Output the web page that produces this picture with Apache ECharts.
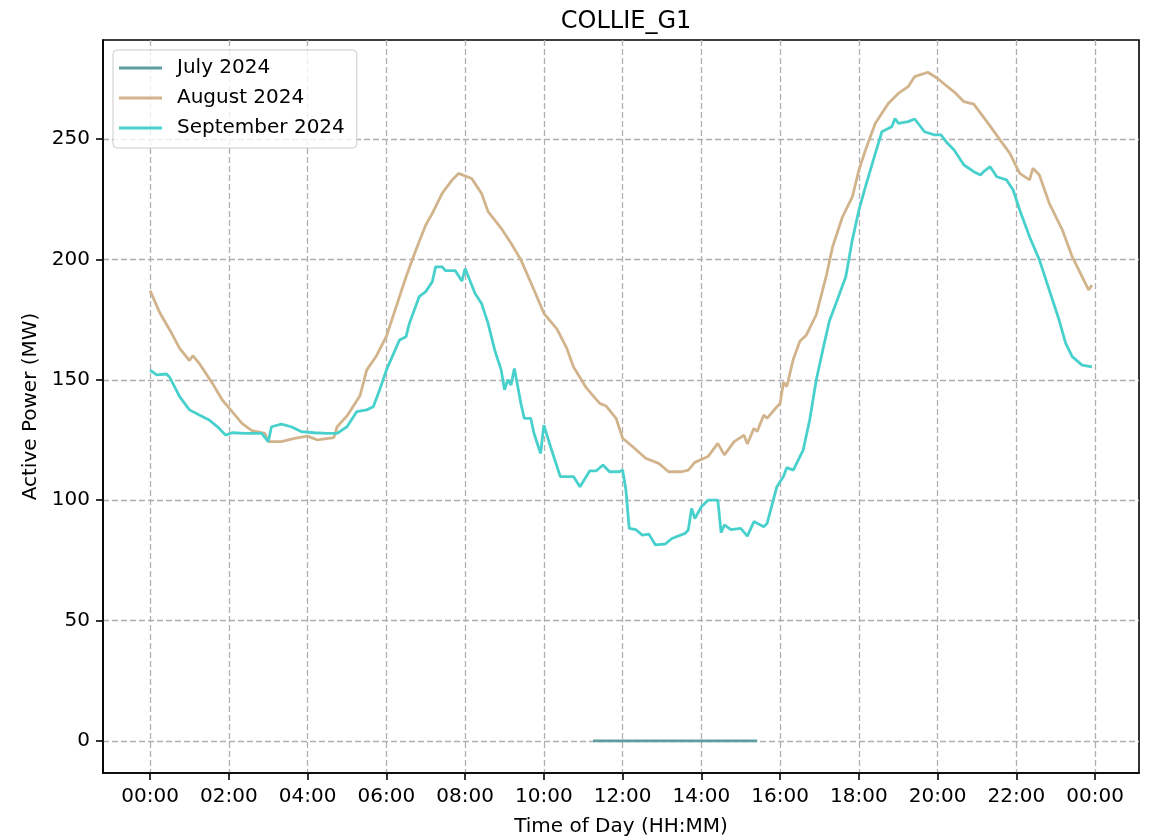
<!DOCTYPE html>
<html>
<head>
<meta charset="utf-8">
<script src="https://cdn.jsdelivr.net/npm/echarts@6/dist/echarts.min.js"></script>
<style>
html,body{margin:0;padding:0;background:#fff;}
#chart{width:1155px;height:838px;}
</style>
</head>
<body>
<div id="chart"></div>
<script>
// ---- Data (time of day HH:MM, active power MW) ----
const julyTimes = ["11:15", "15:25"];
const julyValues = [0, 0];

const augTimes = ["00:00","00:15","00:30","00:45","01:00","01:05","01:15","01:35","01:50","02:05","02:20","02:35","02:55","03:00","03:20","03:40","04:00","04:15","04:40","04:45","05:00","05:20","05:30","05:45","06:00","06:15","06:30","06:45","07:00","07:10","07:25","07:40","07:50","08:10","08:25","08:35","08:55","09:10","09:25","09:45","10:00","10:20","10:35","10:45","11:05","11:25","11:35","11:50","12:00","12:15","12:35","12:55","13:10","13:30","13:40","13:50","14:10","14:25","14:35","14:50","15:05","15:10","15:20","15:25","15:35","15:40","15:55","16:00","16:05","16:10","16:20","16:30","16:40","16:55","17:10","17:20","17:35","17:50","18:00","18:10","18:25","18:45","19:00","19:15","19:25","19:45","20:00","20:15","20:25","20:40","20:55","21:15","21:35","21:50","22:05","22:20","22:25","22:35","22:50","23:10","23:25","23:40","23:50","23:55"];
const augValues = [187,177.7,170.7,163,158,160,156.8,148.5,141.6,136.8,131.9,128.9,127.7,124.3,124.3,125.7,126.6,125,126,130.5,135,143.5,154,160,168,180.4,192.8,203.9,214.3,219.1,227.4,232.9,235.7,233.6,227.4,219.8,212.9,206.7,199.8,187.3,177.6,171,163,155.4,146.5,140.2,139.1,134,125.7,122.3,117.4,115.3,111.8,111.8,112.5,115.7,118.1,123.6,118.8,124.3,127,123.3,129.8,128.5,135.4,134,138.8,140.2,149,147.1,158.5,166,168.6,177,192.8,205.3,217.7,226,237.1,245.4,256.5,264.8,268.9,271.7,275.9,277.7,275.1,271.7,269.6,265.5,264.5,257.2,249.6,244,235.7,233,237.8,235,223.3,212.2,201.1,192.8,187.3,189.4];

const sepTimes = ["00:00","00:10","00:25","00:30","00:45","01:00","01:15","01:30","01:45","01:55","02:05","02:25","02:50","03:00","03:05","03:20","03:35","03:50","04:10","04:30","04:45","05:00","05:15","05:30","05:40","05:50","06:00","06:20","06:30","06:35","06:50","07:00","07:10","07:15","07:25","07:30","07:45","07:55","08:00","08:15","08:25","08:35","08:45","08:55","09:00","09:05","09:10","09:15","09:25","09:30","09:40","09:45","09:55","10:00","10:10","10:25","10:45","10:55","11:10","11:20","11:30","11:40","11:55","12:00","12:05","12:10","12:20","12:30","12:40","12:50","13:05","13:15","13:35","13:40","13:45","13:50","14:00","14:10","14:25","14:30","14:35","14:45","15:00","15:10","15:20","15:35","15:40","15:55","16:05","16:10","16:20","16:35","16:45","16:55","17:05","17:15","17:25","17:40","17:50","18:00","18:10","18:25","18:35","18:50","18:55","19:00","19:15","19:25","19:40","19:55","20:05","20:15","20:25","20:40","20:55","21:05","21:10","21:20","21:30","21:45","21:55","22:05","22:20","22:35","22:50","23:05","23:15","23:25","23:40","23:55"];
const sepValues = [154,152,152.4,151,143,137.5,135.4,133.3,129.9,127,128,127.7,127.7,124.3,130.5,131.6,130.5,128.5,128,127.7,127.7,130.5,136.8,137.5,138.8,146,154,166.5,167.9,173.4,184.5,186.6,190.7,196.9,196.9,195.3,195.3,191,196.2,185.9,181.7,173.4,162.4,154,145.8,150,147.8,154.7,140.2,134,134,127.7,119.4,131.2,122.3,109.8,109.8,105.6,112.2,112.2,114.6,111.8,111.8,112.5,104.2,88.3,87.8,85.5,85.9,81.4,81.8,84.1,86.2,87.6,96.6,92.4,97.3,100,100,86.5,89.7,87.8,88.3,85.1,91.1,89,90.3,105.6,109.8,113.5,112.5,120.8,133.3,149.9,162.4,174.4,181.7,192.8,208.1,220.5,230.2,244,253,255.1,258.5,256.5,257.2,258.3,253,251.7,251.7,248.2,245.4,239.2,236.4,235,236.4,238.5,234.3,233,228.8,220.5,209.4,199.8,187.3,174.8,165.2,159.6,156.1,155.4];

// tick positions (minutes of day) and value ticks
const xTickMinutes = [0,120,240,360,480,600,720,840,960,1080,1200,1320,1440];
const yTickValues = [0,50,100,150,200,250];

// ---- helpers ----
function toMin(t){ const p = t.split(":"); return (+p[0])*60 + (+p[1]); }
function pairs(times, vals){ return times.map((t,i)=>[toMin(t), vals[i]]); }
function fmt(m){ const mm = ((Math.round(m) % 1440) + 1440) % 1440; const h = Math.floor(mm/60), n = mm%60; return String(h).padStart(2,"0")+":"+String(n).padStart(2,"0"); }

const FONT = "DejaVu Sans";
const chart = echarts.init(document.getElementById("chart"), null, {renderer: "canvas"});
const gridLine = {show:true, lineStyle:{color:"#b0b0b0", width:1.3, type:[6,3]}};

chart.setOption({
  animation: false,
  backgroundColor: "#fff",
  title: {
    text: "COLLIE_G1",
    left: 621, top: 5, textAlign: "center",
    textStyle: {fontFamily: FONT, fontSize: 24, fontWeight: "normal", color: "#000"}
  },
  legend: {
    orient: "vertical",
    left: 113, top: 50,
    padding: [8, 12, 10, 6],
    icon: "rect",
    itemWidth: 43, itemHeight: 3, itemGap: 10,
    backgroundColor: "rgba(255,255,255,0.8)",
    borderColor: "#cccccc", borderWidth: 1, borderRadius: 4,
    textStyle: {fontFamily: FONT, fontSize: 20, lineHeight: 20, color: "#000", padding: [0,0,0,10]},
    data: ["July 2024", "August 2024", "September 2024"]
  },
  grid: {
    left: 103, right: 16, top: 40, bottom: 65,
    outerBoundsMode: "none", containLabel: false,
    show: true, borderColor: "#000", borderWidth: 1.6, backgroundColor: "transparent"
  },
  xAxis: {
    type: "value",
    min: -71.75, max: 1506.75,
    name: "Time of Day (HH:MM)",
    nameLocation: "middle", nameGap: 44,
    nameTextStyle: {fontFamily: FONT, fontSize: 20, color: "#000"},
    axisLine: {show: true, onZero: false, lineStyle: {color: "#000", width: 1.6}},
    axisTick: {show: true, inside: false, length: 7, lineStyle: {color: "#000", width: 1.6}, customValues: xTickMinutes},
    axisLabel: {fontFamily: FONT, fontSize: 20, color: "#000", margin: 14, customValues: xTickMinutes, formatter: v => fmt(v)},
    splitLine: gridLine
  },
  yAxis: {
    type: "value",
    min: -13.3, max: 291.1,
    name: "Active Power (MW)",
    nameLocation: "middle", nameGap: 62, nameRotate: 90,
    nameTextStyle: {fontFamily: FONT, fontSize: 20, color: "#000"},
    axisLine: {show: true, onZero: false, lineStyle: {color: "#000", width: 1.6}},
    axisTick: {show: true, inside: false, length: 7, lineStyle: {color: "#000", width: 1.6}, customValues: yTickValues},
    axisLabel: {fontFamily: FONT, fontSize: 20, color: "#000", margin: 13, customValues: yTickValues},
    splitLine: gridLine
  },
  series: [
    {name: "July 2024", type: "line", data: pairs(julyTimes, julyValues), symbol: "none", showSymbol: false,
     lineStyle: {color: "#5F9EA0", width: 2.8}, itemStyle: {color: "#5F9EA0"}},
    {name: "August 2024", type: "line", data: pairs(augTimes, augValues), symbol: "none", showSymbol: false,
     lineStyle: {color: "#D2B48C", width: 2.8}, itemStyle: {color: "#D2B48C"}},
    {name: "September 2024", type: "line", data: pairs(sepTimes, sepValues), symbol: "none", showSymbol: false,
     lineStyle: {color: "#48D1CC", width: 2.8}, itemStyle: {color: "#48D1CC"}}
  ]
});
</script>
</body>
</html>
